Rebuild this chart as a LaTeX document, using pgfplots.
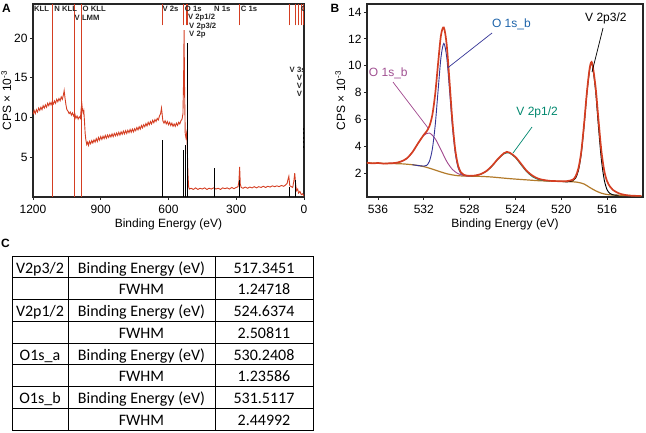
\documentclass[border=0pt]{standalone}
\usepackage{fontspec}
\setmainfont{Liberation Sans}
\newfontfamily\tabfont{Carlito}
\usepackage{pgfplots}
\pgfplotsset{compat=1.18}
\definecolor{specred}{RGB}{212,62,34}
\definecolor{bgbrown}{RGB}{178,122,42}
\definecolor{oablue}{RGB}{52,52,150}
\definecolor{obpurple}{RGB}{160,70,140}
\definecolor{vteal}{RGB}{0,135,110}
\definecolor{lblue}{RGB}{30,100,170}
\definecolor{lpurple}{RGB}{160,80,145}
\begin{document}
\begin{tikzpicture}
\useasboundingbox (0,0) rectangle (646pt,433pt);
\pgfplotsset{
  every axis/.append style={
    scale only axis,
    tick pos=left, tick align=outside, major tick length=3pt,
    axis line style={line width=1.1pt, black!85},
    every tick/.style={black!85, line width=0.8pt},
    tick label style={font=\fontsize{12}{13}\selectfont},
    label style={font=\fontsize{12}{13}\selectfont},
    /pgf/number format/assume math mode=true,
    /pgf/number format/1000 sep={},
    xlabel={Binding Energy (eV)},
    ylabel={CPS × 10\textsuperscript{-3}},
    xticklabel style={yshift=-2pt},
    yticklabel style={xshift=1pt},
  }
}
% ---------------- Panel A ----------------
\begin{axis}[
  at={(33pt,236pt)}, anchor=south west,
  width=271pt, height=193pt,
  xmin=0, xmax=1200, x dir=reverse, ymin=0, ymax=24.3,
  xtick={0,300,600,900,1200}, ytick={5,10,15,20},
  xlabel style={yshift=2pt},
  ylabel style={yshift=-4pt},
]
% long red marker lines
\addplot[specred, line width=0.9pt] coordinates {(1112,0) (1112,24.3)};
\addplot[specred, line width=0.9pt] coordinates {(1016,0) (1016,24.3)};
\addplot[specred, line width=0.9pt] coordinates {(984,0) (984,24.3)};
% short red marker lines at top
\foreach \e in {625,534,522,514,284,63,38,26,11,1}{
  \edef\tmp{\noexpand\addplot[specred, line width=0.9pt] coordinates {(\e,21.6) (\e,24.3)};}\tmp
}
% spectrum
\addplot[specred, line width=0.9pt] coordinates {
(1200,10.4)(1195,10.9)(1190,10.5)(1185,11.0)(1180,10.7)(1175,11.2)(1170,10.9)(1165,11.3)(1160,11.0)(1155,11.5)
(1150,11.2)(1145,11.6)(1140,11.3)(1135,11.8)(1130,11.5)(1125,11.9)(1120,11.6)(1115,12.0)(1110,11.7)(1105,12.1)
(1100,11.8)(1095,12.3)(1090,12.0)(1085,12.4)(1080,12.1)(1075,12.6)(1070,12.3)(1065,12.9)(1062,13.4)(1058,12.4)
(1054,11.6)(1050,11.0)(1045,10.8)(1040,10.5)(1035,10.7)(1030,10.3)(1025,10.6)(1020,10.2)(1015,10.5)(1010,9.9)
(1005,10.2)(1000,9.8)(995,10.1)(990,9.9)(987,11.0)(984,11.8)(981,11.0)(978,10.6)(975,10.9)(972,9.5)
(969,8.0)(966,7.2)(962,6.6)(958,6.9)(954,6.5)(950,7.0)(945,6.7)(940,7.1)(935,6.8)(930,7.2)
(925,6.9)(920,7.35)(915,7.0)(910,7.5)(905,7.15)(900,7.6)(895,7.25)(890,7.65)(885,7.35)(880,7.75)
(875,7.4)(870,7.8)(865,7.5)(860,7.85)(855,7.55)(850,7.95)(845,7.6)(840,8.0)(835,7.7)(830,8.05)
(825,7.75)(820,8.15)(815,7.8)(810,8.2)(805,7.9)(800,8.3)(795,7.95)(790,8.35)(785,8.0)(780,8.4)
(775,8.1)(770,8.5)(765,8.15)(760,8.55)(755,8.2)(750,8.6)(745,8.35)(740,8.75)(735,8.45)(730,8.85)
(725,8.55)(720,9.0)(715,8.7)(710,9.1)(705,8.85)(700,9.25)(695,8.95)(690,9.4)(685,9.1)(680,9.5)
(675,9.2)(670,9.65)(665,9.35)(660,9.75)(655,9.5)(650,9.9)(645,9.7)(640,10.2)(635,10.5)(631,11.2)
(628,10.4)(625,9.6)(620,9.3)(615,9.6)(610,9.2)(605,9.5)(600,9.1)(595,9.4)(590,9.0)(585,9.3)
(580,8.9)(575,9.2)(570,8.9)(565,9.3)(560,9.0)(555,9.4)(550,9.2)(545,9.6)(540,9.8)(536,10.5)
(533,15.0)(531,21.0)(529,14.0)(526,8.0)(523,7.5)(520,8.0)(517,6.5)(514,3.0)(511,1.3)(508,1.0)
(500,1.1)(490,0.95)(480,1.15)(470,0.95)(460,1.1)(450,1.0)(440,1.15)(430,0.95)(420,1.1)(410,1.0)
(400,1.15)(390,1.0)(380,1.1)(370,0.95)(360,1.15)(350,1.05)(340,1.15)(330,1.0)(320,1.2)(310,1.05)
(300,1.2)(292,1.3)(288,2.0)(285,3.8)(282,1.6)(278,1.2)(270,1.1)(260,1.25)(250,1.1)(240,1.25)
(230,1.15)(220,1.3)(210,1.15)(200,1.3)(190,1.2)(180,1.35)(170,1.2)(160,1.35)(150,1.25)(140,1.4)
(130,1.3)(120,1.4)(110,1.3)(100,1.45)(90,1.35)(82,1.5)(75,1.7)(70,2.3)(67,2.6)(63,1.4)
(56,1.3)(50,1.2)(45,2.0)(41,3.0)(37,1.6)(33,0.8)(28,1.0)(24,0.5)(18,0.7)(12,0.3)(6,0.4)(0,0.1)
};
% black reference bars
\addplot[black, line width=1pt] coordinates {(626,0) (626,7.2)};
\addplot[black, line width=1pt] coordinates {(532,0) (532,5.9)};
\addplot[black, line width=1pt] coordinates {(523,0) (523,6.6)};
\addplot[black, line width=1pt] coordinates {(517,0) (517,19.4)};
\addplot[black, line width=1pt] coordinates {(398,0) (398,3.6)};
\addplot[black, line width=1pt] coordinates {(284,0) (284,2.1)};
\addplot[black, line width=1pt] coordinates {(66,0) (66,1.2)};
\addplot[black, line width=1pt] coordinates {(39,0) (39,2.2)};
\addplot[black, line width=1pt, dash pattern=on 2pt off 2.5pt] coordinates {(3,6.2) (3,8.9)};
% labels
\begin{scope}[every node/.style={font=\bfseries\fontsize{7.7}{8}\selectfont, inner sep=0pt, anchor=west, text=black!85}]
\node at (axis cs:1196,23.7) {KLL};
\node at (axis cs:1106,23.7) {N KLL};
\node at (axis cs:981,23.7) {O KLL};
\node at (axis cs:1016,22.6) {V LMM};
\node at (axis cs:627,23.7) {V 2s};
\node at (axis cs:528,23.7) {O 1s};
\node at (axis cs:514,22.6) {V 2p1/2};
\node at (axis cs:509,21.5) {V 2p3/2};
\node at (axis cs:509,20.4) {V 2p};
\node at (axis cs:399,23.7) {N 1s};
\node at (axis cs:280,23.7) {C 1s};
\node at (axis cs:14,23.7) {O};
\node at (axis cs:64,16.0) {V 3s};
\node at (axis cs:32,15.0) {V};
\node at (axis cs:32,14.0) {V};
\node at (axis cs:32,13.0) {V};
\end{scope}
\end{axis}
% ---------------- Panel B ----------------
\begin{axis}[
  at={(367pt,236pt)}, anchor=south west,
  width=276pt, height=193pt,
  xmin=512.86, xmax=536.96, x dir=reverse, ymin=0.215, ymax=14.6,
  xtick={516,520,524,528,532,536}, ytick={2,4,6,8,10,12,14},
  xlabel style={yshift=2pt},
  ylabel style={yshift=-4pt},
]
\addplot[bgbrown, line width=1.2pt, smooth] coordinates {
(537,2.75)(536,2.73)(535,2.71)(534,2.69)(533.5,2.66)(533,2.62)(532.5,2.56)(532,2.48)(531.5,2.36)(531,2.22)
(530.5,2.08)(530,1.95)(529.5,1.86)(529,1.80)(528.5,1.78)(528,1.77)(527,1.75)(526,1.70)(525,1.62)(524,1.55)
(523,1.49)(522,1.43)(521,1.40)(520,1.38)(519,1.35)(518.5,1.30)(518,1.18)(517.5,0.92)(517,0.68)(516.5,0.50)
(516,0.40)(515.5,0.36)(515,0.34)(514,0.32)(513,0.31)
};
\addplot[obpurple, line width=0.9pt, smooth] coordinates {
(535,2.72)(534.5,2.74)(534,2.84)(533.5,3.07)(533,3.54)(532.5,4.21)(532,4.81)(531.5,4.98)(531,4.55)(530.5,3.73)
(530,2.87)(529.5,2.27)(529,1.95)(528.5,1.82)(528,1.78)
};
\addplot[oablue, line width=0.9pt, smooth] coordinates {
(533,2.62)(532.5,2.56)(532,2.52)(531.75,2.57)(531.5,2.90)(531.25,3.81)(531,5.60)(530.75,8.17)(530.5,10.62)(530.25,11.66)
(530,10.64)(529.75,8.14)(529.5,5.43)(529.25,3.46)(529,2.39)(528.75,1.96)(528.5,1.82)(528,1.77)
};
\addplot[vteal, line width=0.9pt, smooth] coordinates {
(528,1.78)(527.5,1.81)(527,1.92)(526.5,2.15)(526,2.55)(525.5,3.05)(525,3.43)(524.64,3.51)(524.5,3.48)(524,3.15)
(523.5,2.60)(523,2.08)(522.5,1.72)(522,1.52)(521.5,1.44)(521,1.40)
};
\addplot[black, line width=0.9pt, smooth] coordinates {
(520,1.38)(519.5,1.34)(519,1.42)(518.75,1.61)(518.5,2.18)(518.25,3.42)(518,5.54)(517.75,8.00)(517.5,9.81)(517.35,10.10)
(517.25,9.89)(517,8.12)(516.75,5.45)(516.5,3.05)(516.25,1.52)(516,0.76)(515.75,0.48)(515.5,0.38)(515,0.34)
};
\addplot[specred, line width=1.7pt, smooth] coordinates {
(537,2.78)(536.5,2.72)(536,2.75)(535.5,2.70)(535,2.73)(534.5,2.75)(534,2.86)(533.5,3.08)(533,3.55)(532.5,4.22)
(532,4.85)(531.75,5.11)(531.5,5.52)(531.25,6.35)(531,7.93)(530.75,10.19)(530.5,12.27)(530.25,12.85)(530,11.56)(529.75,8.78)
(529.5,5.84)(529.25,3.71)(529,2.54)(528.75,2.04)(528.5,1.86)(528,1.79)(527.5,1.82)(527,1.93)(526.5,2.17)(526,2.58)
(525.5,3.08)(525,3.48)(524.75,3.58)(524.5,3.52)(524,3.2)(523.5,2.68)(523,2.15)(522.5,1.8)(522,1.58)(521.5,1.48)
(521,1.42)(520.5,1.40)(520,1.39)(519.5,1.40)(519,1.50)(518.75,1.75)(518.5,2.35)(518.25,3.6)(518,5.7)(517.75,8.1)
(517.5,9.9)(517.3,10.2)(517,8.4)(516.75,6.0)(516.5,3.7)(516.25,2.2)(516,1.4)(515.75,1.0)(515.5,0.75)(515,0.5)
(514.5,0.38)(514,0.32)(513.5,0.3)(513,0.3)
};
% annotations
\draw[oablue, line width=0.7pt] (axis cs:526.04,12.44) -- (axis cs:529.9,9.85);
\draw[obpurple, line width=0.7pt] (axis cs:534.69,8.78) -- (axis cs:531.63,5.36);
\draw[vteal, line width=0.7pt] (axis cs:522.55,5.43) -- (axis cs:524.21,3.49);
\draw[black, line width=0.7pt] (axis cs:516.35,12.81) -- (axis cs:517.31,9.53);
\begin{scope}[every node/.style={font=\fontsize{12}{13}\selectfont, inner sep=0pt}]
\node[text=lblue] at (axis cs:524.35,13.1) {O 1s\_b};
\node[text=lpurple] at (axis cs:535.1,9.45) {O 1s\_b};
\node[text=vteal] at (axis cs:522.1,6.55) {V 2p1/2};
\node[text=black] at (axis cs:516.1,13.55) {V 2p3/2};
\end{scope}
\end{axis}
% panel letters
\node[font=\bfseries\fontsize{12}{13}\selectfont] at (6.5pt,425pt) {A};
\node[font=\bfseries\fontsize{12}{13}\selectfont] at (335pt,425pt) {B};
\node[font=\bfseries\fontsize{12}{13}\selectfont] at (5.5pt,190pt) {C};
% ---------------- Table C ----------------
\draw[black, line width=0.8pt] (12pt,3pt) rectangle (313pt,177pt);
\foreach \yy in {155.25,133.5,111.75,90,68.25,46.5,24.75}{
  \draw[black, line width=0.8pt] (12pt,\yy pt) -- (313pt,\yy pt);
}
\draw[black, line width=0.8pt] (68pt,3pt) -- (68pt,177pt);
\draw[black, line width=0.8pt] (215pt,3pt) -- (215pt,177pt);
\begin{scope}[every node/.style={font=\tabfont\fontsize{16}{17}\selectfont, inner sep=0pt, anchor=mid}]
\node at (40pt,162.6pt) {V2p3/2};
\node at (141.5pt,162.6pt) {Binding Energy (eV)};
\node at (264pt,162.6pt) {517.3451};
\node at (141.5pt,140.9pt) {FWHM};
\node at (264pt,140.9pt) {1.24718};
\node at (40pt,119.1pt) {V2p1/2};
\node at (141.5pt,119.1pt) {Binding Energy (eV)};
\node at (264pt,119.1pt) {524.6374};
\node at (141.5pt,97.4pt) {FWHM};
\node at (264pt,97.4pt) {2.50811};
\node at (40pt,75.6pt) {O1s\_a};
\node at (141.5pt,75.6pt) {Binding Energy (eV)};
\node at (264pt,75.6pt) {530.2408};
\node at (141.5pt,53.9pt) {FWHM};
\node at (264pt,53.9pt) {1.23586};
\node at (40pt,32.1pt) {O1s\_b};
\node at (141.5pt,32.1pt) {Binding Energy (eV)};
\node at (264pt,32.1pt) {531.5117};
\node at (141.5pt,10.4pt) {FWHM};
\node at (264pt,10.4pt) {2.44992};
\end{scope}
\end{tikzpicture}
\end{document}
